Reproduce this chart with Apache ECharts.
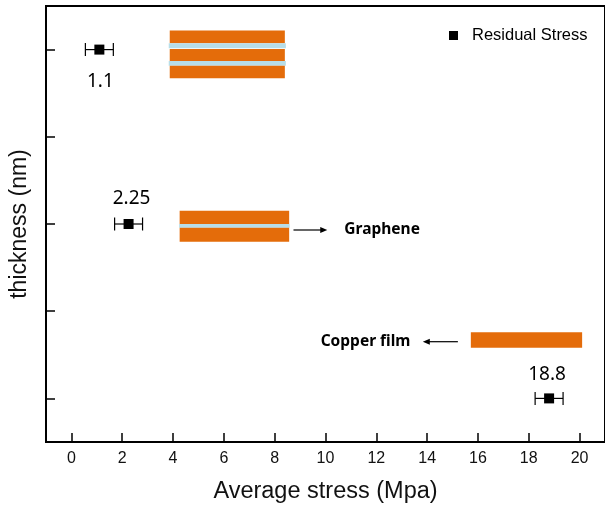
<!DOCTYPE html>
<html>
<head>
<meta charset="utf-8">
<script src="https://cdn.jsdelivr.net/npm/echarts@6/dist/echarts.min.js"></script>
<style>
html,body{margin:0;padding:0;background:#fff;}
#chart{width:605px;height:509px;}
</style>
</head>
<body>
<div id="chart"></div>
<script>
// ---- data ----
const thicknessLevels = ['t1', 't2', 't3', 't4', 't5'];   // hidden y categories (bottom -> top)
const pointLevel = [4, 2, 0];                              // category index of each measurement
const stressValues = [1.1, 2.25, 18.8];                    // average stress (MPa)
const stressErrors = [0.55, 0.55, 0.55];                   // error bar half-width
const valueLabels = ['1.1', '2.25', '18.8'];
const xTickValues = [0, 2, 4, 6, 8, 10, 12, 14, 16, 18, 20];
const seriesName = 'Residual Stress';

const ORANGE = '#E46C0A';
const BLUE = '#B7DEE8';

const chart = echarts.init(document.getElementById('chart'));

const labelPlace = [
  {offset: [1, 32]},
  {offset: [3, -25]},
  {offset: [-2, -24]}
];

const scatterData = stressValues.map((v, i) => ({
  value: [v, pointLevel[i]],
  label: {formatter: valueLabels[i], offset: labelPlace[i].offset}
}));
const errData = stressValues.map((v, i) => [v, pointLevel[i], stressErrors[i]]);

// schematic illustrations (annotation), in data x-units and category index
const schematics = [
  {x0: 3.87, x1: 8.40, level: 4, layers: [
    [-19, -6.3, ORANGE, 0], [-6.3, -1.3, BLUE, 0.04], [-0.6, 11.4, ORANGE, 0], [11.4, 16.1, BLUE, 0.04], [16.1, 28.7, ORANGE, 0]
  ]},
  {x0: 4.26, x1: 8.57, level: 2, layers: [
    [-13.3, 0, ORANGE, 0], [0, 3.7, BLUE, 0.02], [3.7, 17.7, ORANGE, 0]
  ]},
  {x0: 15.72, x1: 20.10, level: 0, layers: [
    [-66.1, -50.7, ORANGE, 0]
  ]}
];
const arrows = [
  {from: 8.74, to: 10.07, level: 2, dy: 6, text: 'Graphene', textX: 10.74},
  {from: 15.21, to: 13.83, level: 0, dy: -56.7, text: 'Copper film', textX: 9.81}
];

const option = {
  animation: false,
  backgroundColor: '#fff',
  grid: {left: 44, top: 6, width: 562, height: 436, show: true, borderColor: '#000', borderWidth: 2, backgroundColor: 'transparent'},
  legend: {
    data: [{name: seriesName, icon: 'rect'}],
    left: 444, top: 22,
    itemWidth: 9, itemHeight: 9,
    textStyle: {fontFamily: 'Liberation Sans', fontSize: 16.5, color: '#000', padding: [0, 0, 0, 9]}
  },
  xAxis: {
    type: 'value', min: -1, max: 21,
    name: 'Average stress (Mpa)', nameLocation: 'middle', nameGap: 38,
    nameTextStyle: {fontFamily: 'Liberation Sans', fontSize: 23.5, color: '#111'},
    axisLine: {show: true, onZero: false, lineStyle: {color: '#000', width: 2}},
    axisTick: {show: true, inside: true, length: 9, customValues: xTickValues, lineStyle: {color: '#000', width: 1.5}},
    axisLabel: {customValues: xTickValues, margin: 9, fontFamily: 'Liberation Sans', fontSize: 16, color: '#111'},
    splitLine: {show: false}
  },
  yAxis: {
    type: 'category', data: thicknessLevels,
    name: 'thickness (nm)', nameLocation: 'middle', nameGap: 15,
    nameTextStyle: {fontFamily: 'Liberation Sans', fontSize: 23, color: '#111'},
    axisLine: {show: true, onZero: false, lineStyle: {color: '#000', width: 2}},
    axisTick: {show: true, inside: true, length: 9, alignWithLabel: true, lineStyle: {color: '#000', width: 1.5}},
    axisLabel: {show: false},
    splitLine: {show: false}
  },
  series: [
    {
      name: 'schematic', type: 'custom', silent: true, z: 1,
      data: schematics.map((s, i) => [s.x0, s.x1, s.level, i]),
      renderItem: function (params, api) {
        const s = schematics[api.value(3)];
        const pa = api.coord([api.value(0), api.value(2)]);
        const pb = api.coord([api.value(1), api.value(2)]);
        const unit = api.size([1, 0])[0];
        const children = s.layers.map(L => ({
          type: 'rect',
          shape: {x: pa[0] - L[3] * unit, y: pa[1] + L[0], width: (pb[0] - pa[0]) + 2 * L[3] * unit, height: L[1] - L[0]},
          style: {fill: L[2], stroke: null}
        }));
        return {type: 'group', children: children};
      }
    },
    {
      name: 'arrows', type: 'custom', silent: true, z: 1,
      data: arrows.map((a, i) => [a.from, a.to, a.level, i]),
      renderItem: function (params, api) {
        const a = arrows[api.value(3)];
        const p0 = api.coord([api.value(0), api.value(2)]);
        const p1 = api.coord([api.value(1), api.value(2)]);
        const y = p0[1] + a.dy;
        const dir = p1[0] > p0[0] ? 1 : -1;
        const tip = p1[0];
        const pt = api.coord([a.textX, api.value(2)]);
        return {type: 'group', children: [
          {type: 'line', shape: {x1: p0[0], y1: y, x2: tip - dir * 6, y2: y}, style: {stroke: '#000', lineWidth: 1.2}},
          {type: 'polygon', shape: {points: [[tip, y], [tip - dir * 7, y - 3], [tip - dir * 7, y + 3]]}, style: {fill: '#000'}},
          {type: 'text', x: pt[0], y: y, style: {text: a.text, fill: '#000', font: 'bold 15.5px "Noto Sans"', align: 'left', verticalAlign: 'middle'}}
        ]};
      }
    },
    {
      name: 'errorbars', type: 'custom', silent: true, z: 3,
      data: errData,
      renderItem: function (params, api) {
        const lo = api.coord([api.value(0) - api.value(2), api.value(1)]);
        const hi = api.coord([api.value(0) + api.value(2), api.value(1)]);
        const cap = 6.5;
        const st = {stroke: '#000', lineWidth: 1.2};
        return {type: 'group', children: [
          {type: 'line', shape: {x1: lo[0], y1: lo[1], x2: hi[0], y2: hi[1]}, style: st},
          {type: 'line', shape: {x1: lo[0], y1: lo[1] - cap, x2: lo[0], y2: lo[1] + cap}, style: st},
          {type: 'line', shape: {x1: hi[0], y1: hi[1] - cap, x2: hi[0], y2: hi[1] + cap}, style: st}
        ]};
      }
    },
    {
      name: seriesName, type: 'scatter', symbol: 'rect', symbolSize: 10, z: 4,
      itemStyle: {color: '#000', opacity: 1},
      label: {show: true, position: 'inside', fontFamily: 'Noto Sans', fontSize: 19, color: '#000', opacity: 1},
      data: scatterData
    }
  ]
};
chart.setOption(option);
</script>
</body>
</html>
